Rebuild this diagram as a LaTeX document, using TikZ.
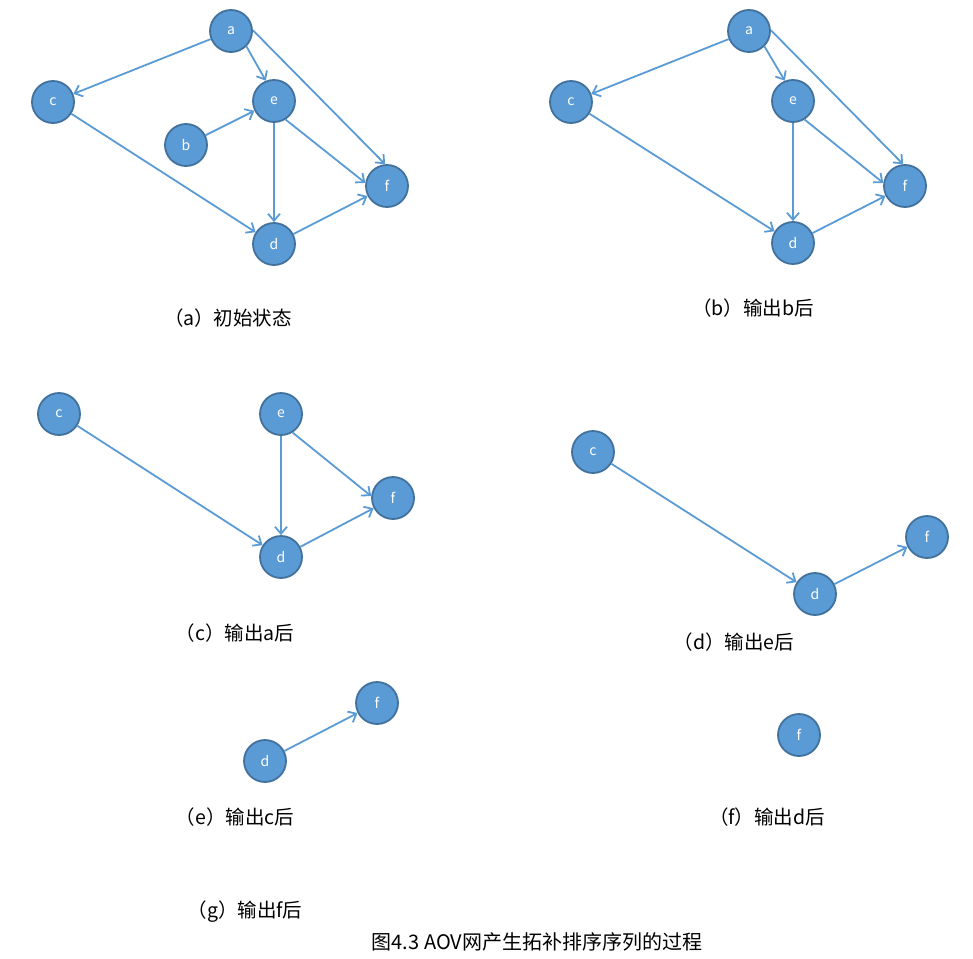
\documentclass[tikz,border=0pt]{standalone}
\usepackage{fontspec}
\setmainfont{Noto Sans CJK SC}
\usetikzlibrary{arrows.meta}
\definecolor{nodefill}{HTML}{5B9BD5}
\definecolor{nodeline}{HTML}{41719C}
\definecolor{edgecol}{HTML}{5B9BD5}
\tikzset{
  vtx/.style={circle, fill=nodefill, draw=nodeline, line width=1.8pt, minimum size=42pt, inner sep=0pt, text=white, font=\fontsize{14}{16}\selectfont},
  edge/.style={draw=edgecol, line width=1.8pt, -{Straight Barb[length=7pt,width=12pt,line width=1.8pt]}},
  captext/.style={font=\fontsize{19.5}{22}\selectfont, text=black, inner sep=0pt},
  titletext/.style={font=\fontsize{20}{24}\selectfont, text=black, inner sep=0pt}
}
\begin{document}
\begin{tikzpicture}[x=1pt,y=-1pt]
\useasboundingbox (0,0) rectangle (973,958);
% (a)
\node[vtx] (aa) at (231,31) {a};
\node[vtx] (ac) at (53,102) {c};
\node[vtx] (ab) at (186,145) {b};
\node[vtx] (ae) at (274,101) {e};
\node[vtx] (af) at (387,186) {f};
\node[vtx] (ad) at (274,244) {d};
\draw[edge] (aa) -- (ac);
\draw[edge] (aa.-45) -- (ae.112);
\draw[edge] (aa.2) -- (af.95);
\draw[edge] (ab) -- (ae);
\draw[edge] (ac) -- (ad);
\draw[edge] (ae) -- (ad);
\draw[edge] (ae.-58) -- (af.172);
\draw[edge] (ad) -- (af);
\node[captext] (capa) at (228,318) {（a）初始状态};
% (b)
\node[vtx] (ba) at (749,31) {a};
\node[vtx] (bc) at (571,102) {c};
\node[vtx] (be) at (793,101) {e};
\node[vtx] (bf) at (905,186) {f};
\node[vtx] (bd) at (793,243) {d};
\draw[edge] (ba) -- (bc);
\draw[edge] (ba.-45) -- (be.112);
\draw[edge] (ba.2) -- (bf.95);
\draw[edge] (bc) -- (bd);
\draw[edge] (be) -- (bd);
\draw[edge] (be.-58) -- (bf.172);
\draw[edge] (bd) -- (bf);
\node[captext] (capb) at (753,308) {（b）输出b后};
% (c)
\node[vtx] (cc) at (59,414) {c};
\node[vtx] (ce) at (281,414) {e};
\node[vtx] (cf) at (393,498) {f};
\node[vtx] (cd) at (281,557) {d};
\draw[edge] (cc) -- (cd);
\draw[edge] (ce) -- (cd);
\draw[edge] (ce.-58) -- (cf.175);
\draw[edge] (cd) -- (cf);
\node[captext] (capc) at (235,633) {（c）输出a后};
% (d)
\node[vtx] (dc) at (593,452) {c};
\node[vtx] (df) at (927,537) {f};
\node[vtx] (dd) at (815,594) {d};
\draw[edge] (dc) -- (dd);
\draw[edge] (dd) -- (df);
\node[captext] (capd) at (734,642) {（d）输出e后};
% (e)
\node[vtx] (ef) at (377,703) {f};
\node[vtx] (ed) at (265,761) {d};
\draw[edge] (ed) -- (ef);
\node[captext] (cape) at (235,817) {（e）输出c后};
% (f)
\node[vtx] (ff) at (799,735) {f};
\node[captext] (capf) at (767,817) {（f）输出d后};
% (g)
\node[captext] (capg) at (245,912) {（g）输出f后};
\node[titletext] (title) at (537,942) {图4.3 AOV网产生拓补排序序列的过程};
\end{tikzpicture}
\end{document}
